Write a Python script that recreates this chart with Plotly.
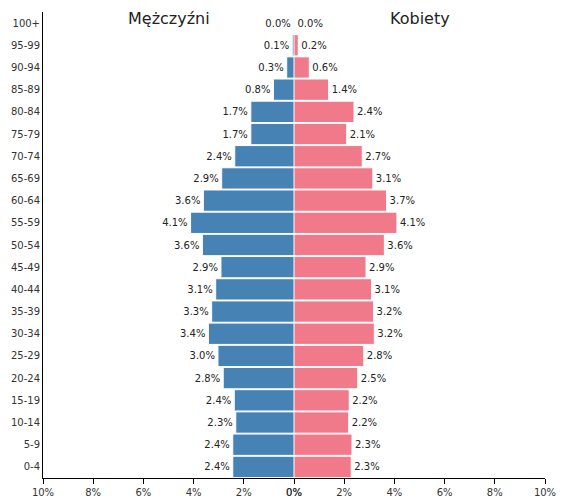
import plotly.graph_objects as go

ages = ["0-4", "5-9", "10-14", "15-19", "20-24", "25-29", "30-34", "35-39",
        "40-44", "45-49", "50-54", "55-59", "60-64", "65-69", "70-74", "75-79",
        "80-84", "85-89", "90-94", "95-99", "100+"]
men = [2.44, 2.44, 2.32, 2.38, 2.82, 3.03, 3.41, 3.28, 3.12, 2.91, 3.65,
       4.12, 3.61, 2.88, 2.36, 1.72, 1.72, 0.82, 0.29, 0.07, 0.01]
women = [2.28, 2.31, 2.18, 2.20, 2.54, 2.78, 3.20, 3.17, 3.09, 2.87, 3.60,
         4.10, 3.69, 3.14, 2.72, 2.10, 2.39, 1.38, 0.61, 0.17, 0.02]
ticks = [0, 2, 4, 6, 8, 10]
tick_text = [f"{t}%" for t in ticks]

FONT = "DejaVu Sans"
W, H = 575, 498
M = dict(l=43, r=30, t=12, b=20)

fig = go.Figure()
fig.add_trace(go.Bar(y=ages, x=men, orientation="h", xaxis="x", yaxis="y",
    marker=dict(color="#4682b4", line=dict(color="white", width=1)),
    text=[f"{v:.1f}%" for v in men], textposition="outside", cliponaxis=False,
    textfont=dict(size=10, color="#222"), showlegend=False, hoverinfo="skip"))
fig.add_trace(go.Bar(y=ages, x=women, orientation="h", xaxis="x2", yaxis="y",
    marker=dict(color="#f07a8a", line=dict(color="white", width=1)),
    text=[f"{v:.1f}%" for v in women], textposition="outside", cliponaxis=False,
    textfont=dict(size=10, color="#222"), showlegend=False, hoverinfo="skip"))

axis_common = dict(tickvals=ticks, ticktext=tick_text, showline=True,
    linecolor="black", linewidth=1, ticks="outside", ticklen=5, tickcolor="black",
    showgrid=False, zeroline=False, tickfont=dict(size=10, color="#333"),
    fixedrange=True, automargin=False)
plot_h = H - M["t"] - M["b"]
title_y = 1 - (18 - 12) / plot_h
fig.update_layout(
    width=W, height=H, font=dict(family=FONT),
    plot_bgcolor="white", paper_bgcolor="white",
    margin=dict(**M, autoexpand=False),
    bargap=0.04, uniformtext=dict(mode=False),
    xaxis=dict(domain=[0, 0.5], range=[10, 0], anchor="y", **axis_common),
    xaxis2=dict(domain=[0.5, 1], range=[0, 10], anchor="y", **axis_common),
    yaxis=dict(type="category", categoryorder="array", categoryarray=ages,
               range=[-0.5, len(ages) - 0.5], showline=True, linecolor="black",
               linewidth=1, ticks="", showgrid=False, ticklabelstandoff=0,
               tickfont=dict(size=10, color="#333"), fixedrange=True,
               automargin=False),
    annotations=[
        dict(text="Mężczyźni", x=0.25, y=title_y, xref="paper", yref="paper",
             xanchor="center", yanchor="middle", showarrow=False,
             font=dict(size=16, color="#222")),
        dict(text="Kobiety", x=0.75, y=title_y, xref="paper", yref="paper",
             xanchor="center", yanchor="middle", showarrow=False,
             font=dict(size=16, color="#222")),
    ],
)
# drop the browser's default 8px body margin so the figure sits at the page corner
fig.write_html("out.html", config={"displayModeBar": False},
               post_script="document.body.style.margin='0';")
